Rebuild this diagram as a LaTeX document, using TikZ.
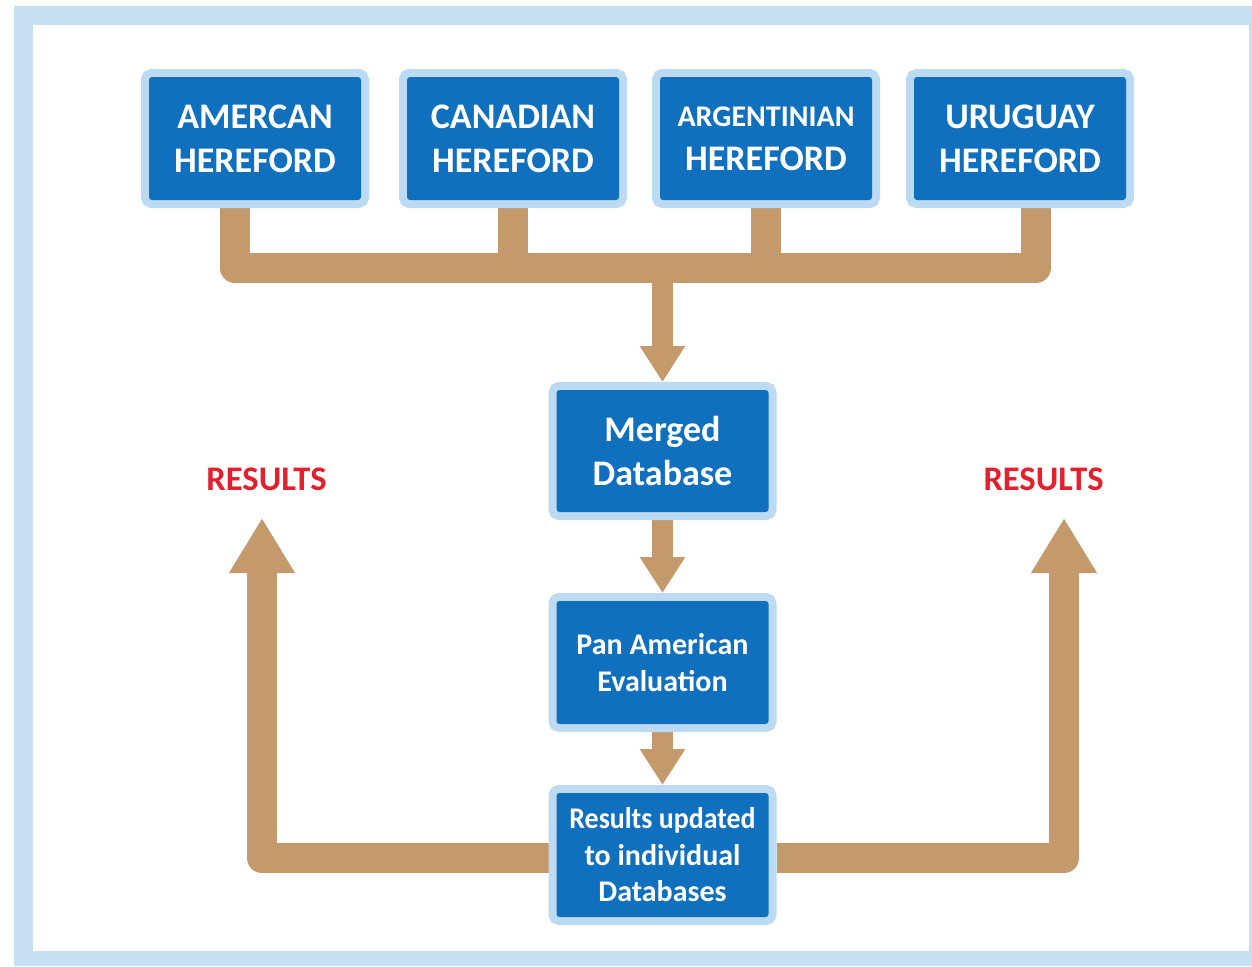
\documentclass[tikz,border=0pt]{standalone}
\usepackage{fontspec}
\usepackage{graphicx}
\setmainfont{Carlito}
\usetikzlibrary{arrows.meta,backgrounds}

\definecolor{framebg}{HTML}{C5E0F5}
\definecolor{halo}{HTML}{BCDAF2}
\definecolor{boxblue}{HTML}{1170BE}
\definecolor{tanbrown}{HTML}{C49A6C}
\definecolor{resred}{HTML}{E3202E}

\tikzset{
  bluebox/.style={fill=boxblue, text=white, rounded corners=3pt,
    preaction={draw=halo, line width=16pt}, outer sep=8pt,
    align=center, inner sep=0pt, minimum width=212pt},
  topbox/.style={bluebox, minimum height=123pt,
    font=\fontsize{36}{44}\selectfont\bfseries},
  tanline/.style={draw=tanbrown, line width=30pt, line join=round},
  uparrow/.style={tanline, -{Triangle[length=55pt,width=62pt]}},
  midarrow/.style={draw=tanbrown, line width=21pt,
    -{Triangle[length=36pt,width=43pt]}},
  reslabel/.style={text=resred, inner sep=0pt, anchor=base,
    font=\fontsize{34.5}{40}\selectfont\bfseries},
}

\begin{document}
\begin{tikzpicture}[x=1pt,y=-1pt]
\useasboundingbox (0,0) rectangle (1252,966);

% page frame
\begin{scope}[on background layer]
  \fill[framebg] (14,6) rectangle (1252,966);
  \fill[white] (33,25) rectangle (1249,951);
\end{scope}

% breed databases
\node[topbox] (am) at (255,138.5) {AMERCAN\\HEREFORD};
\node[topbox] (ca) at (513,138.5) {CANADIAN\\HEREFORD};
\node[topbox] (ar) at (766,138.5)
  {{\fontsize{30}{44}\selectfont ARGENTINIAN}\\HEREFORD};
\node[topbox] (ur) at (1020,138.5) {URUGUAY\\HEREFORD};

% central chain
\node[bluebox, minimum height=122pt,
  font=\fontsize{36}{44}\selectfont\bfseries]
  (merged) at (662.5,451) {Merged\\Database};
\node[bluebox, minimum height=123pt,
  font=\fontsize{30}{37}\selectfont\bfseries]
  (pan) at (662.5,662.5) {Pan American\\Evaluation};
\node[bluebox, minimum height=124pt,
  font=\fontsize{30}{36.5}\selectfont\bfseries]
  (res) at (662.5,855) {\scalebox{0.93}[1]{Results updated}\\to individual\\Databases};

% labels
\node[reslabel] (rl) at (266.5,490) {RESULTS};
\node[reslabel] (rr) at (1043.5,490) {RESULTS};

% joints
\coordinate (s1) at (234.5,267.5);
\coordinate (s4) at (1036,267.5);
\coordinate (jl) at (262,858);
\coordinate (tl) at (262,518);
\coordinate (jr) at (1064,858);
\coordinate (tr) at (1064,518);

\begin{scope}[on background layer]
  % collecting bar
  \draw[tanline] (am.south -| s1) -- (s1) -- (s4) -- (ur.south -| s4);
  \draw[tanline] (ca.south) -- (ca.south |- s1);
  \draw[tanline] (ar.south) -- (ar.south |- s1);
  \draw[midarrow] (merged.north |- s1) -- (merged.north);
  % chain arrows
  \draw[midarrow] (merged.south) -- (pan.north);
  \draw[midarrow] (pan.south) -- (res.north);
  % results returned
  \draw[uparrow] (res.west |- jl) -- (jl) -- (tl);
  \draw[uparrow] (res.east |- jr) -- (jr) -- (tr);
\end{scope}
\end{tikzpicture}
\end{document}
